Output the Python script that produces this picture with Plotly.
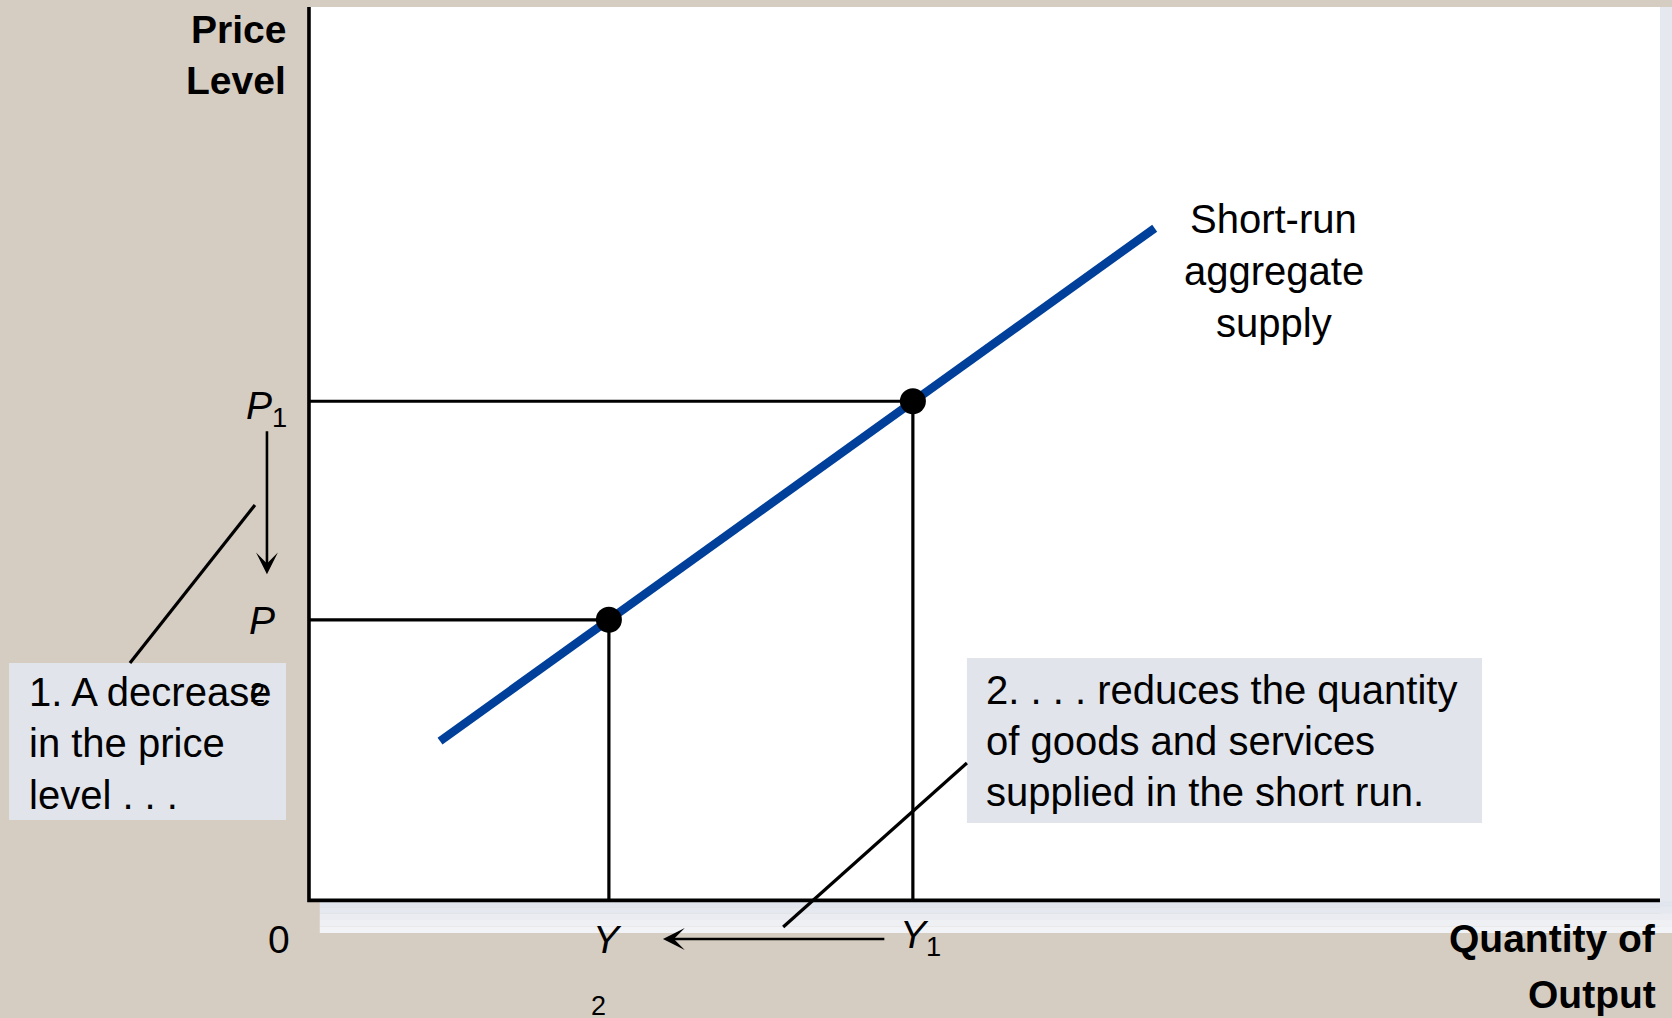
import plotly.graph_objects as go

# ---- data (chart units: x = quantity of output, y = price level) ----
sras_x = [9.7, 62.6]
sras_y = [17.7, 75.2]
eq_quantity = [22.2, 44.7]      # Y2, Y1
eq_price = [31.3, 55.8]         # P2, P1
price_labels = ["<i>P</i>", "<i>P</i><sub>1</sub>"]
quantity_labels = ["<i>Y</i>", "<i>Y</i><sub>1</sub>"]
curve_label = ["Short-run", "aggregate", "supply"]
note1_lines = ["1. A decrease", "in the price", "level . . ."]
note2_lines = ["2. . . . reduces the quantity", "of goods and services", "supplied in the short run."]

BG = "#D6CDC2"
BLUE = "#00409A"
BOX = "#E1E4EA"
FONT = "Liberation Sans, Arial, sans-serif"
FS = 39

fig = go.Figure()

# guide lines from axes to each equilibrium point
for q, p in zip(eq_quantity, eq_price):
    fig.add_trace(go.Scatter(x=[0, q, q], y=[p, p, 0], mode="lines",
                             line=dict(color="black", width=3.2),
                             hoverinfo="skip", showlegend=False))

# SRAS curve
fig.add_trace(go.Scatter(x=sras_x, y=sras_y, mode="lines",
                         line=dict(color=BLUE, width=8.5),
                         hoverinfo="skip", showlegend=False))

# equilibrium points
fig.add_trace(go.Scatter(x=eq_quantity, y=eq_price, mode="markers",
                         marker=dict(color="black", size=26),
                         hoverinfo="skip", showlegend=False))

# axes lines
fig.add_trace(go.Scatter(x=[0, 0, 100], y=[100, -0.15, -0.15], mode="lines",
                         line=dict(color="black", width=3.6),
                         hoverinfo="skip", showlegend=False))

# leader lines from the note boxes
fig.add_trace(go.Scatter(x=[-13.25, -4.0], y=[26.46, 44.17], mode="lines",
                         line=dict(color="black", width=3.2),
                         hoverinfo="skip", showlegend=False))
fig.add_trace(go.Scatter(x=[48.7, 35.1], y=[15.25, -3.14], mode="lines",
                         line=dict(color="black", width=3.2),
                         hoverinfo="skip", showlegend=False))

shapes = []
# white plotting area
shapes.append(dict(type="rect", xref="x", yref="y", x0=0, x1=100, y0=0, y1=100,
                   fillcolor="white", line=dict(width=0), layer="below"))
# light shadow strips (right and bottom)
shapes.append(dict(type="rect", xref="x", yref="y", x0=100, x1=101, y0=100, y1=-3.8,
                   fillcolor="#E5E8EF", line=dict(width=0), layer="below"))
strip_cols = ["#E1E5ED", "#E5E8EF", "#EAECF2", "#EEF0F4", "#F2F3F6"]
n = len(strip_cols)
for i, c in enumerate(strip_cols):
    y_top = -0.2 - i * 3.6 / n
    y_bot = -0.2 - (i + 1) * 3.6 / n
    shapes.append(dict(type="rect", xref="x", yref="y", x0=0.8, x1=101, y0=y_top, y1=y_bot,
                       fillcolor=c, line=dict(width=0), layer="below"))
# note boxes
shapes.append(dict(type="rect", xref="x", yref="y", x0=-22.2, x1=-1.7, y0=8.86, y1=26.46,
                   fillcolor=BOX, line=dict(width=0), layer="below"))
shapes.append(dict(type="rect", xref="x", yref="y", x0=48.7, x1=86.83, y0=8.52, y1=27.02,
                   fillcolor=BOX, line=dict(width=0), layer="below"))

ann = []
def txt(x, y, s, xanchor="center", size=FS, bold=False):
    if bold:
        s = "<b>" + s + "</b>"
    ann.append(dict(x=x, y=y, xref="x", yref="y", text=s, showarrow=False,
                    xanchor=xanchor, yanchor="middle",
                    font=dict(family=FONT, size=size, color="black")))

# axis titles
txt(-1.55, 97.5, "Price", "right", bold=True)
txt(-1.55, 91.8, "Level", "right", bold=True)
txt(99.85, -4.45, "Quantity of", "right", bold=True)
txt(99.85, -10.7, "Output", "right", bold=True)

# curve label
for i, s in enumerate(curve_label):
    txt(71.43, 76.2 - i * 5.8, s, size=40)

# price / quantity labels
txt(-1.5, 55.0, price_labels[1], "right")
txt(-2.4, 31.2, price_labels[0], "right")
txt(-2.2, -4.5, "0")
txt(22.1, -4.5, quantity_labels[0])
txt(43.6, -4.3, quantity_labels[1], "left")
# stray subscripts as in the original artwork
txt(21.4, -12.0, "2", size=27)
txt(-3.8, 23.1, "2", size=27)

# note texts
for i, s in enumerate(note1_lines):
    txt(-20.9, 23.2 - i * 5.75, s, "left", size=40)
for i, s in enumerate(note2_lines):
    txt(50.0, 23.43 - i * 5.72, s, "left", size=40)

# arrows
ann.append(dict(x=-3.11, y=36.4, ax=-3.11, ay=52.6, xref="x", yref="y", axref="x", ayref="y",
                text="", showarrow=True, arrowhead=3, arrowsize=1.4, arrowwidth=2.6,
                arrowcolor="black"))
ann.append(dict(x=26.2, y=-4.48, ax=42.7, ay=-4.48, xref="x", yref="y", axref="x", ayref="y",
                text="", showarrow=True, arrowhead=3, arrowsize=1.4, arrowwidth=2.6,
                arrowcolor="black"))

fig.update_layout(
    width=1672, height=1018,
    margin=dict(l=0, r=0, t=0, b=0),
    paper_bgcolor=BG, plot_bgcolor=BG,
    xaxis=dict(range=[-22.87, 100.89], visible=False, fixedrange=True),
    yaxis=dict(range=[-13.34, 100.78], visible=False, fixedrange=True),
    shapes=shapes, annotations=ann,
    showlegend=False, hovermode=False,
)

fig.write_html("out.html", config={"displayModeBar": False},
               post_script="document.body.style.margin='0';document.body.style.overflow='hidden';")
